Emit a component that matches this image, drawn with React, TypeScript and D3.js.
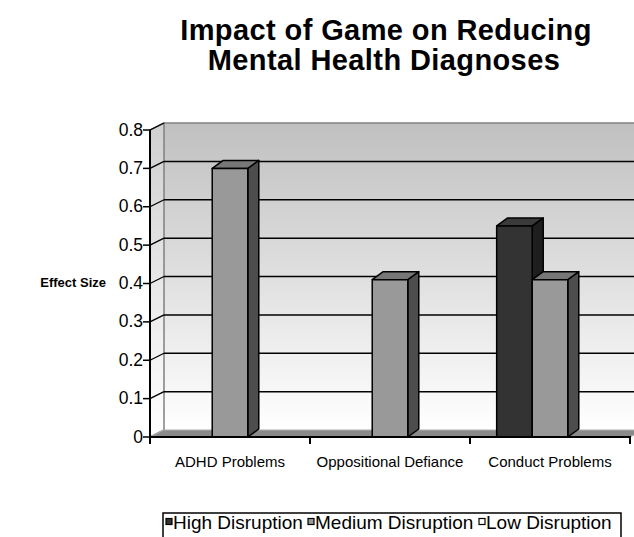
import * as React from "react"
import * as d3 from "d3"

const categories = ["ADHD Problems", "Oppositional Defiance", "Conduct Problems"]
const seriesNames = ["High Disruption", "Medium Disruption", "Low Disruption"]
const highValues = [0, 0, 0.55]
const mediumValues = [0.7, 0.41, 0.41]
const lowValues = [0, 0, 0]
const yTicks = [0, 0.1, 0.2, 0.3, 0.4, 0.5, 0.6, 0.7, 0.8]
const yTickLabels = ["0", "0.1", "0.2", "0.3", "0.4", "0.5", "0.6", "0.7", "0.8"]

const seriesValues = [highValues, mediumValues, lowValues]
const front = ["#333333", "#999999", "#ffffff"]
const top = ["#3a3a3a", "#777777", "#dddddd"]
const side = ["#1e1e1e", "#4d4d4d", "#bbbbbb"]

const font = "Arial, 'Liberation Sans', sans-serif"

function App() {
    const width = 634
    const height = 537
    // wall depth and bar depth (3d offset)
    const dx = 14, dy = -7
    const bdx = 11, bdy = -8

    const x = d3.scaleBand().domain(categories).range([150, 630])
    const y = d3.scaleLinear().domain([0, 0.8]).range([437, 130])
    const barW = x.bandwidth() / 4.5
    const groupOff = (x.bandwidth() - 3 * barW) / 2

    const y0 = y(0)
    const yTop = y(0.8)
    const xL = 150, xR = 630

    const poly = (pts) => pts.map((p) => p.join(",")).join(" ")

    const bars = []
    categories.forEach((c, ci) => {
        seriesValues.forEach((vals, si) => {
            const v = vals[ci]
            if (!v) return
            const bx = x(c) + groupOff + si * barW
            const yv = y(v)
            bars.push(
                <g key={c + si} stroke="#000" strokeWidth={1.5} strokeLinejoin="round">
                    <polygon points={poly([[bx + barW, yv], [bx + barW + bdx, yv + bdy], [bx + barW + bdx, y0 + bdy], [bx + barW, y0]])} fill={side[si]} />
                    <polygon points={poly([[bx, yv], [bx + bdx, yv + bdy], [bx + barW + bdx, yv + bdy], [bx + barW, yv]])} fill={top[si]} />
                    <rect x={bx} y={yv} width={barW} height={y0 - yv} fill={front[si]} />
                </g>
            )
        })
    })

    const legendX = [166, 308, 479]

    return (
        <svg width={width} height={height} style={{ position: "absolute", left: 0, top: 0, background: "#fff" }} fontFamily={font}>
            <defs>
                <linearGradient id="wall" x1="0" y1="0" x2="0" y2="1">
                    <stop offset="0%" stopColor="#c0c0c0" />
                    <stop offset="100%" stopColor="#ffffff" />
                </linearGradient>
                <linearGradient id="side" x1="0" y1="0" x2="0" y2="1">
                    <stop offset="0%" stopColor="#cfcfcf" />
                    <stop offset="100%" stopColor="#ffffff" />
                </linearGradient>
            </defs>

            <text x={386} y={40} textAnchor="middle" fontSize={29} letterSpacing={0.4} fontWeight="bold">Impact of Game on Reducing</text>
            <text x={384} y={70} textAnchor="middle" fontSize={29} letterSpacing={0.4} fontWeight="bold">Mental Health Diagnoses</text>

            {/* back wall */}
            <rect x={xL + dx} y={yTop + dy} width={xR - xL + 10} height={y0 - yTop} fill="url(#wall)" />
            <line x1={xL + dx} x2={xR + dx + 10} y1={yTop + dy} y2={yTop + dy} stroke="#808080" strokeWidth={1.5} />
            {/* left wall */}
            <polygon points={poly([[xL, yTop], [xL + dx, yTop + dy], [xL + dx, y0 + dy], [xL, y0]])} fill="url(#side)" stroke="#808080" strokeWidth={1.5} />

            {/* gridlines */}
            {yTicks.filter((t) => t > 0 && t < 0.8).map((t) => (
                <line key={t} x1={xL + dx} x2={xR + dx + 10} y1={y(t) + dy} y2={y(t) + dy} stroke="#000" strokeWidth={1.5} />
            ))}
            {yTicks.map((t) => (
                <line key={"d" + t} x1={xL} x2={xL + dx} y1={y(t)} y2={y(t) + dy} stroke={t === 0 ? "#999" : "#000"} strokeWidth={1.3} />
            ))}

            {/* floor */}
            <polygon points={poly([[xL + dx, y0 + dy], [xR + dx, y0 + dy], [xR, y0], [xL, y0]])} fill="#8a8a8a" stroke="#b0b0b0" strokeWidth={1} />

            {bars}

            {/* front axes */}
            <line x1={xL} x2={xL} y1={yTop} y2={y0 + 1} stroke="#000" strokeWidth={2} />
            <line x1={xL - 1} x2={xR + 1} y1={y0} y2={y0} stroke="#000" strokeWidth={2} />
            {yTicks.map((t, i) => (
                <g key={"t" + t}>
                    <line x1={xL - 7} x2={xL} y1={y(t)} y2={y(t)} stroke="#000" strokeWidth={1.5} />
                    <text x={xL - 7} y={y(t) + 5.5} textAnchor="end" fontSize={17.5}>{yTickLabels[i]}</text>
                </g>
            ))}
            {[...categories.map((c) => x(c)), xR].map((v, i) => (
                <line key={"xt" + i} x1={v} x2={v} y1={y0} y2={y0 + 7} stroke="#000" strokeWidth={2} />
            ))}
            {categories.map((c) => (
                <text key={"xl" + c} x={x(c) + x.bandwidth() / 2} y={467} textAnchor="middle" fontSize={15}>{c}</text>
            ))}

            <text x={106} y={287} textAnchor="end" fontSize={13} fontWeight="bold">Effect Size</text>

            {/* legend */}
            <rect x={163} y={513} width={458} height={40} fill="#fff" stroke="#000" strokeWidth={1.5} />
            {seriesNames.map((s, i) => (
                <g key={s}>
                    <rect x={legendX[i]} y={518.5} width={6} height={6} fill={front[i]} stroke="#000" strokeWidth={1.2} />
                    <text x={legendX[i] + 7} y={528.5} fontSize={19}>{s}</text>
                </g>
            ))}
        </svg>
    )
}

export default App
